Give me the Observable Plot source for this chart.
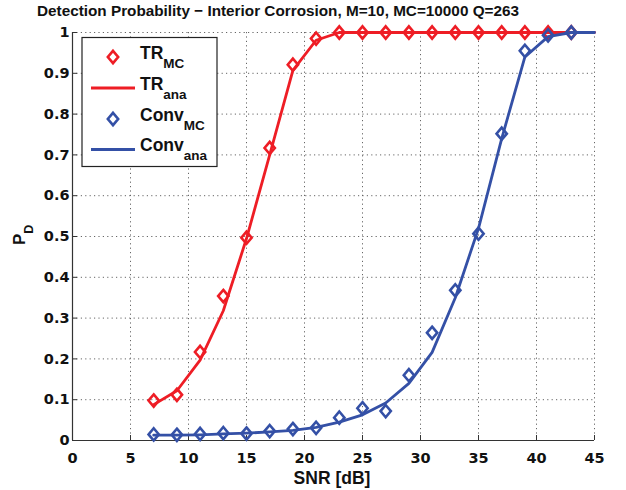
<!DOCTYPE html>
<html><head><meta charset="utf-8">
<script src="https://cdn.jsdelivr.net/npm/d3@7"></script>
<script src="https://cdn.jsdelivr.net/npm/@observablehq/plot@0.6"></script>
<style>
body{margin:0;background:#fff;}
#chart{position:relative;width:626px;height:490px;}
</style>
</head><body><div id="chart"></div>
<script>
// ---- data ----
const snrMC = [7,9,11,13,15,17,19,21,23,25,27,29,31,33,35,37,39,41,43];
const trMC = [0.098,0.112,0.217,0.354,0.497,0.717,0.921,0.985,1,1,1,1,1,1,1,1,1,1,1];
const convMC = [0.015,0.014,0.016,0.018,0.017,0.023,0.028,0.031,0.056,0.079,0.072,0.160,0.264,0.368,0.507,0.752,0.955,0.993,1.0];
const snrAna = [7,9,11,13,15,17,19,21,23,25,27,29,31,33,35,37,39,41,43,45];
const trAna = [0.088,0.122,0.197,0.318,0.495,0.700,0.907,0.981,1,1,1,1,1,1,1,1,1,1,1,1];
const convAna = [0.013,0.013,0.014,0.016,0.018,0.021,0.025,0.032,0.045,0.063,0.092,0.140,0.216,0.350,0.520,0.740,0.940,0.990,1.0,1.0];
const xTicks = [0,5,10,15,20,25,30,35,40,45];
const yTicks = [0,0.1,0.2,0.3,0.4,0.5,0.6,0.7,0.8,0.9,1];
const title = "Detection Probability \u2212 Interior Corrosion, M=10, MC=10000 Q=263";
const xLabel = "SNR [dB]";
const legendItems = [
  {main:"TR", sub:"MC", kind:"marker", color:"red"},
  {main:"TR", sub:"ana", kind:"line", color:"red"},
  {main:"Conv", sub:"MC", kind:"marker", color:"blue"},
  {main:"Conv", sub:"ana", kind:"line", color:"blue"}
];
const colors = {red:"#ee1d25", blue:"#3450a6"};

const mc = (ys) => snrMC.map((x,i)=>({x, y: ys[i]}));
const ana = (ys) => snrAna.map((x,i)=>({x, y: ys[i]}));

// MATLAB-like diamond
const diamond = {
  draw(ctx, size) {
    const r = Math.sqrt(size/Math.PI);
    const w = r*0.86, h = r*1.02;
    ctx.moveTo(0,-h); ctx.lineTo(w,0); ctx.lineTo(0,h); ctx.lineTo(-w,0); ctx.closePath();
  }
};

const font = "'Liberation Sans', Arial, Helvetica, sans-serif";
const tickFont = "'DejaVu Sans', sans-serif";
const chart = Plot.plot({
  width: 626, height: 490,
  marginLeft: 72, marginRight: 32, marginTop: 32, marginBottom: 50,
  style: {fontFamily: tickFont, fontSize: "14.5px", fontWeight: "bold", color: "#111", background: "#fff", overflow: "visible"},
  x: {domain: [0,45], label: null},
  y: {domain: [0,1], label: null},
  marks: [
    Plot.gridX(xTicks, {stroke: "#666", strokeOpacity: 1, strokeDasharray: "1.2,3.2", strokeWidth: 1}),
    Plot.gridY(yTicks, {stroke: "#666", strokeOpacity: 1, strokeDasharray: "1.2,3.2", strokeWidth: 1}),
    Plot.axisX(xTicks, {tickSize: -5, tickPadding: 17, tickFormat: d => String(d), stroke: "#333", fontSize: 14.5, fontWeight: "bold"}),
    Plot.axisY(yTicks, {tickSize: -5, tickPadding: 8, tickFormat: d => String(d), stroke: "#333", fontSize: 14.5, fontWeight: "bold"}),
    Plot.ruleX([0], {stroke: "#333", strokeWidth: 1.2}),
    Plot.ruleY([0], {stroke: "#333", strokeWidth: 1.2}),
    Plot.dot(mc(trMC), {x: "x", y: "y", symbol: diamond, r: 6, stroke: colors.red, strokeWidth: 2.6, fill: "none"}),
    Plot.line(ana(trAna), {x: "x", y: "y", stroke: colors.red, strokeWidth: 2.8}),
    Plot.dot(mc(convMC), {x: "x", y: "y", symbol: diamond, r: 6, stroke: colors.blue, strokeWidth: 2.6, fill: "none"}),
    Plot.line(ana(convAna), {x: "x", y: "y", stroke: colors.blue, strokeWidth: 2.8})
  ]
});
document.getElementById("chart").appendChild(chart);

const svg = d3.select(chart);
// title
svg.append("text").attr("x", 278).attr("y", 15.5).attr("text-anchor", "middle")
  .attr("font-family", font).attr("font-size", 15.3).attr("font-weight", "bold").attr("fill", "#111")
  .text(title);
// x label
svg.append("text").attr("x", 332).attr("y", 484).attr("text-anchor", "middle")
  .attr("font-family", font).attr("font-size", 17.5).attr("font-weight", "bold").attr("fill", "#111")
  .text(xLabel);
// y label P_D
const yl = svg.append("text").attr("transform", "translate(25,245) rotate(-90)").attr("text-anchor", "start")
  .attr("font-family", font).attr("font-size", 17).attr("font-weight", "bold").attr("fill", "#111");
yl.append("tspan").text("P");
yl.append("tspan").attr("dy", 8).attr("font-size", 12.5).text("D");

// legend
const lg = svg.append("g");
lg.append("rect").attr("x", 82).attr("y", 37.5).attr("width", 135).attr("height", 129)
  .attr("fill", "#fff").attr("stroke", "#222").attr("stroke-width", 1.2);
const rowY = [57, 88, 119, 149.5];
const diamondPath = d3.path(); diamond.draw(diamondPath, Math.PI*36);
legendItems.forEach((it, i) => {
  const y = rowY[i];
  const c = colors[it.color];
  if (it.kind === "marker") {
    lg.append("path").attr("d", diamondPath.toString()).attr("transform", `translate(113,${y})`)
      .attr("fill", "none").attr("stroke", c).attr("stroke-width", 2.6);
  } else {
    lg.append("line").attr("x1", 91).attr("x2", 135).attr("y1", y).attr("y2", y)
      .attr("stroke", c).attr("stroke-width", 2.8);
  }
  const t = lg.append("text").attr("x", 140).attr("y", y + 1.5).attr("text-anchor", "start")
    .attr("font-family", font).attr("font-size", 17.5).attr("font-weight", "bold").attr("fill", "#111");
  t.append("tspan").text(it.main);
  t.append("tspan").attr("dy", 9).attr("font-size", 13.5).text(it.sub);
});
</script>
</body></html>
